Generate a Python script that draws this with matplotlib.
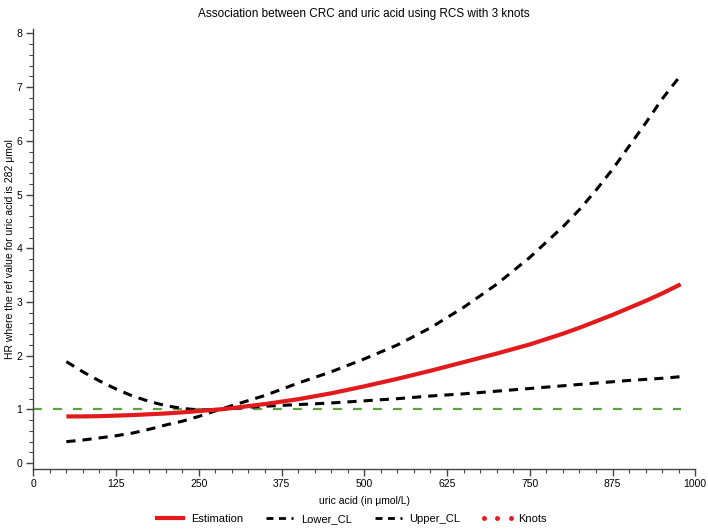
import matplotlib
matplotlib.use("Agg")
import matplotlib.pyplot as plt
from matplotlib.lines import Line2D
from matplotlib.ticker import MultipleLocator

plt.rcParams['font.family'] = ['Liberation Sans', 'DejaVu Sans']

# ---- data ----
uric_acid = [50, 75, 100, 125, 150, 175, 200, 225, 250, 282, 300, 350, 400, 450,
             500, 550, 600, 650, 700, 750, 800, 825, 850, 875, 900, 925, 950, 978]
estimation = [0.87, 0.87, 0.875, 0.885, 0.895, 0.91, 0.925, 0.945, 0.97, 1.0, 1.025,
              1.10, 1.19, 1.30, 1.43, 1.57, 1.72, 1.88, 2.04, 2.21, 2.41, 2.52, 2.64,
              2.76, 2.89, 3.02, 3.16, 3.33]
upper_cl = [0.40, 0.43, 0.47, 0.51, 0.56, 0.63, 0.71, 0.78, 0.87, 1.0, 1.07, 1.26,
            1.49, 1.70, 1.94, 2.20, 2.52, 2.90, 3.33, 3.83, 4.40, 4.72, 5.08, 5.47,
            5.90, 6.33, 6.78, 7.22]
lower_cl = [1.89, 1.70, 1.53, 1.38, 1.25, 1.15, 1.07, 1.02, 0.99, 1.0, 1.02, 1.06,
            1.09, 1.12, 1.16, 1.20, 1.25, 1.29, 1.34, 1.39, 1.44, 1.465, 1.49, 1.515,
            1.54, 1.56, 1.58, 1.61]
ref_x = [0, 978]
ref_hr = [1.0, 1.0]
x_ticks = [0, 125, 250, 375, 500, 625, 750, 875, 1000]
y_ticks = [0, 1, 2, 3, 4, 5, 6, 7, 8]

RED = '#e31a1c'
GREEN = '#5ca33a'

fig = plt.figure(figsize=(7.08, 5.30), dpi=100)
ax = fig.add_axes([0.047, 0.115, 0.935, 0.830])

ax.plot(ref_x, ref_hr, color=GREEN, lw=1.6, dashes=(4.0, 5.0), zorder=1)
ax.plot(uric_acid, lower_cl, color='black', lw=2.2, dashes=(3.0, 2.3), zorder=2)
ax.plot(uric_acid, upper_cl, color='black', lw=2.2, dashes=(3.0, 2.3), zorder=2)
ax.plot(uric_acid, estimation, color=RED, lw=3.0, zorder=3, solid_capstyle='butt')

ax.set_xlim(0, 1000)
ax.set_ylim(-0.11, 8.08)
ax.set_xticks(x_ticks)
ax.set_yticks(y_ticks)
ax.xaxis.set_minor_locator(MultipleLocator(25))
ax.yaxis.set_minor_locator(MultipleLocator(0.2))
for s in ['top', 'right']:
    ax.spines[s].set_visible(False)
for s in ['left', 'bottom']:
    ax.spines[s].set_color('#444444')
    ax.spines[s].set_linewidth(1.0)
ax.tick_params(axis='both', which='major', length=5, width=1.0, color='#444444',
               labelsize=7.5, pad=3)
ax.tick_params(axis='x', which='major', pad=2)
ax.tick_params(axis='both', which='minor', length=3, width=0.8, color='#444444')

ax.set_xlabel('uric acid (in μmol/L)', fontsize=7.5, labelpad=5)
ax.set_ylabel('HR where the ref value for uric acid is 282 μmol', fontsize=7.5)
ax.yaxis.set_label_coords(-0.027, 0.5)
ax.set_title('Association between CRC and uric acid using RCS with 3 knots',
             fontsize=8.5, pad=9)

handles = [
    Line2D([], [], color=RED, lw=3.0),
    Line2D([], [], color='black', lw=2.0, dashes=(2.5, 2.0)),
    Line2D([], [], color='black', lw=2.0, dashes=(2.5, 2.0)),
    Line2D([], [], color=RED, lw=0, marker='o', markersize=2.5),
]
labels = ['Estimation', 'Lower_CL', 'Upper_CL', 'Knots']
leg = fig.legend(handles, labels, loc='center', bbox_to_anchor=(350 / 708, 11 / 530),
                 ncol=4, frameon=False, fontsize=8, handlelength=3.0,
                 handletextpad=0.4, columnspacing=1.8, numpoints=3,
                 markerscale=1.0)

fig.savefig('out.png', dpi=100)
